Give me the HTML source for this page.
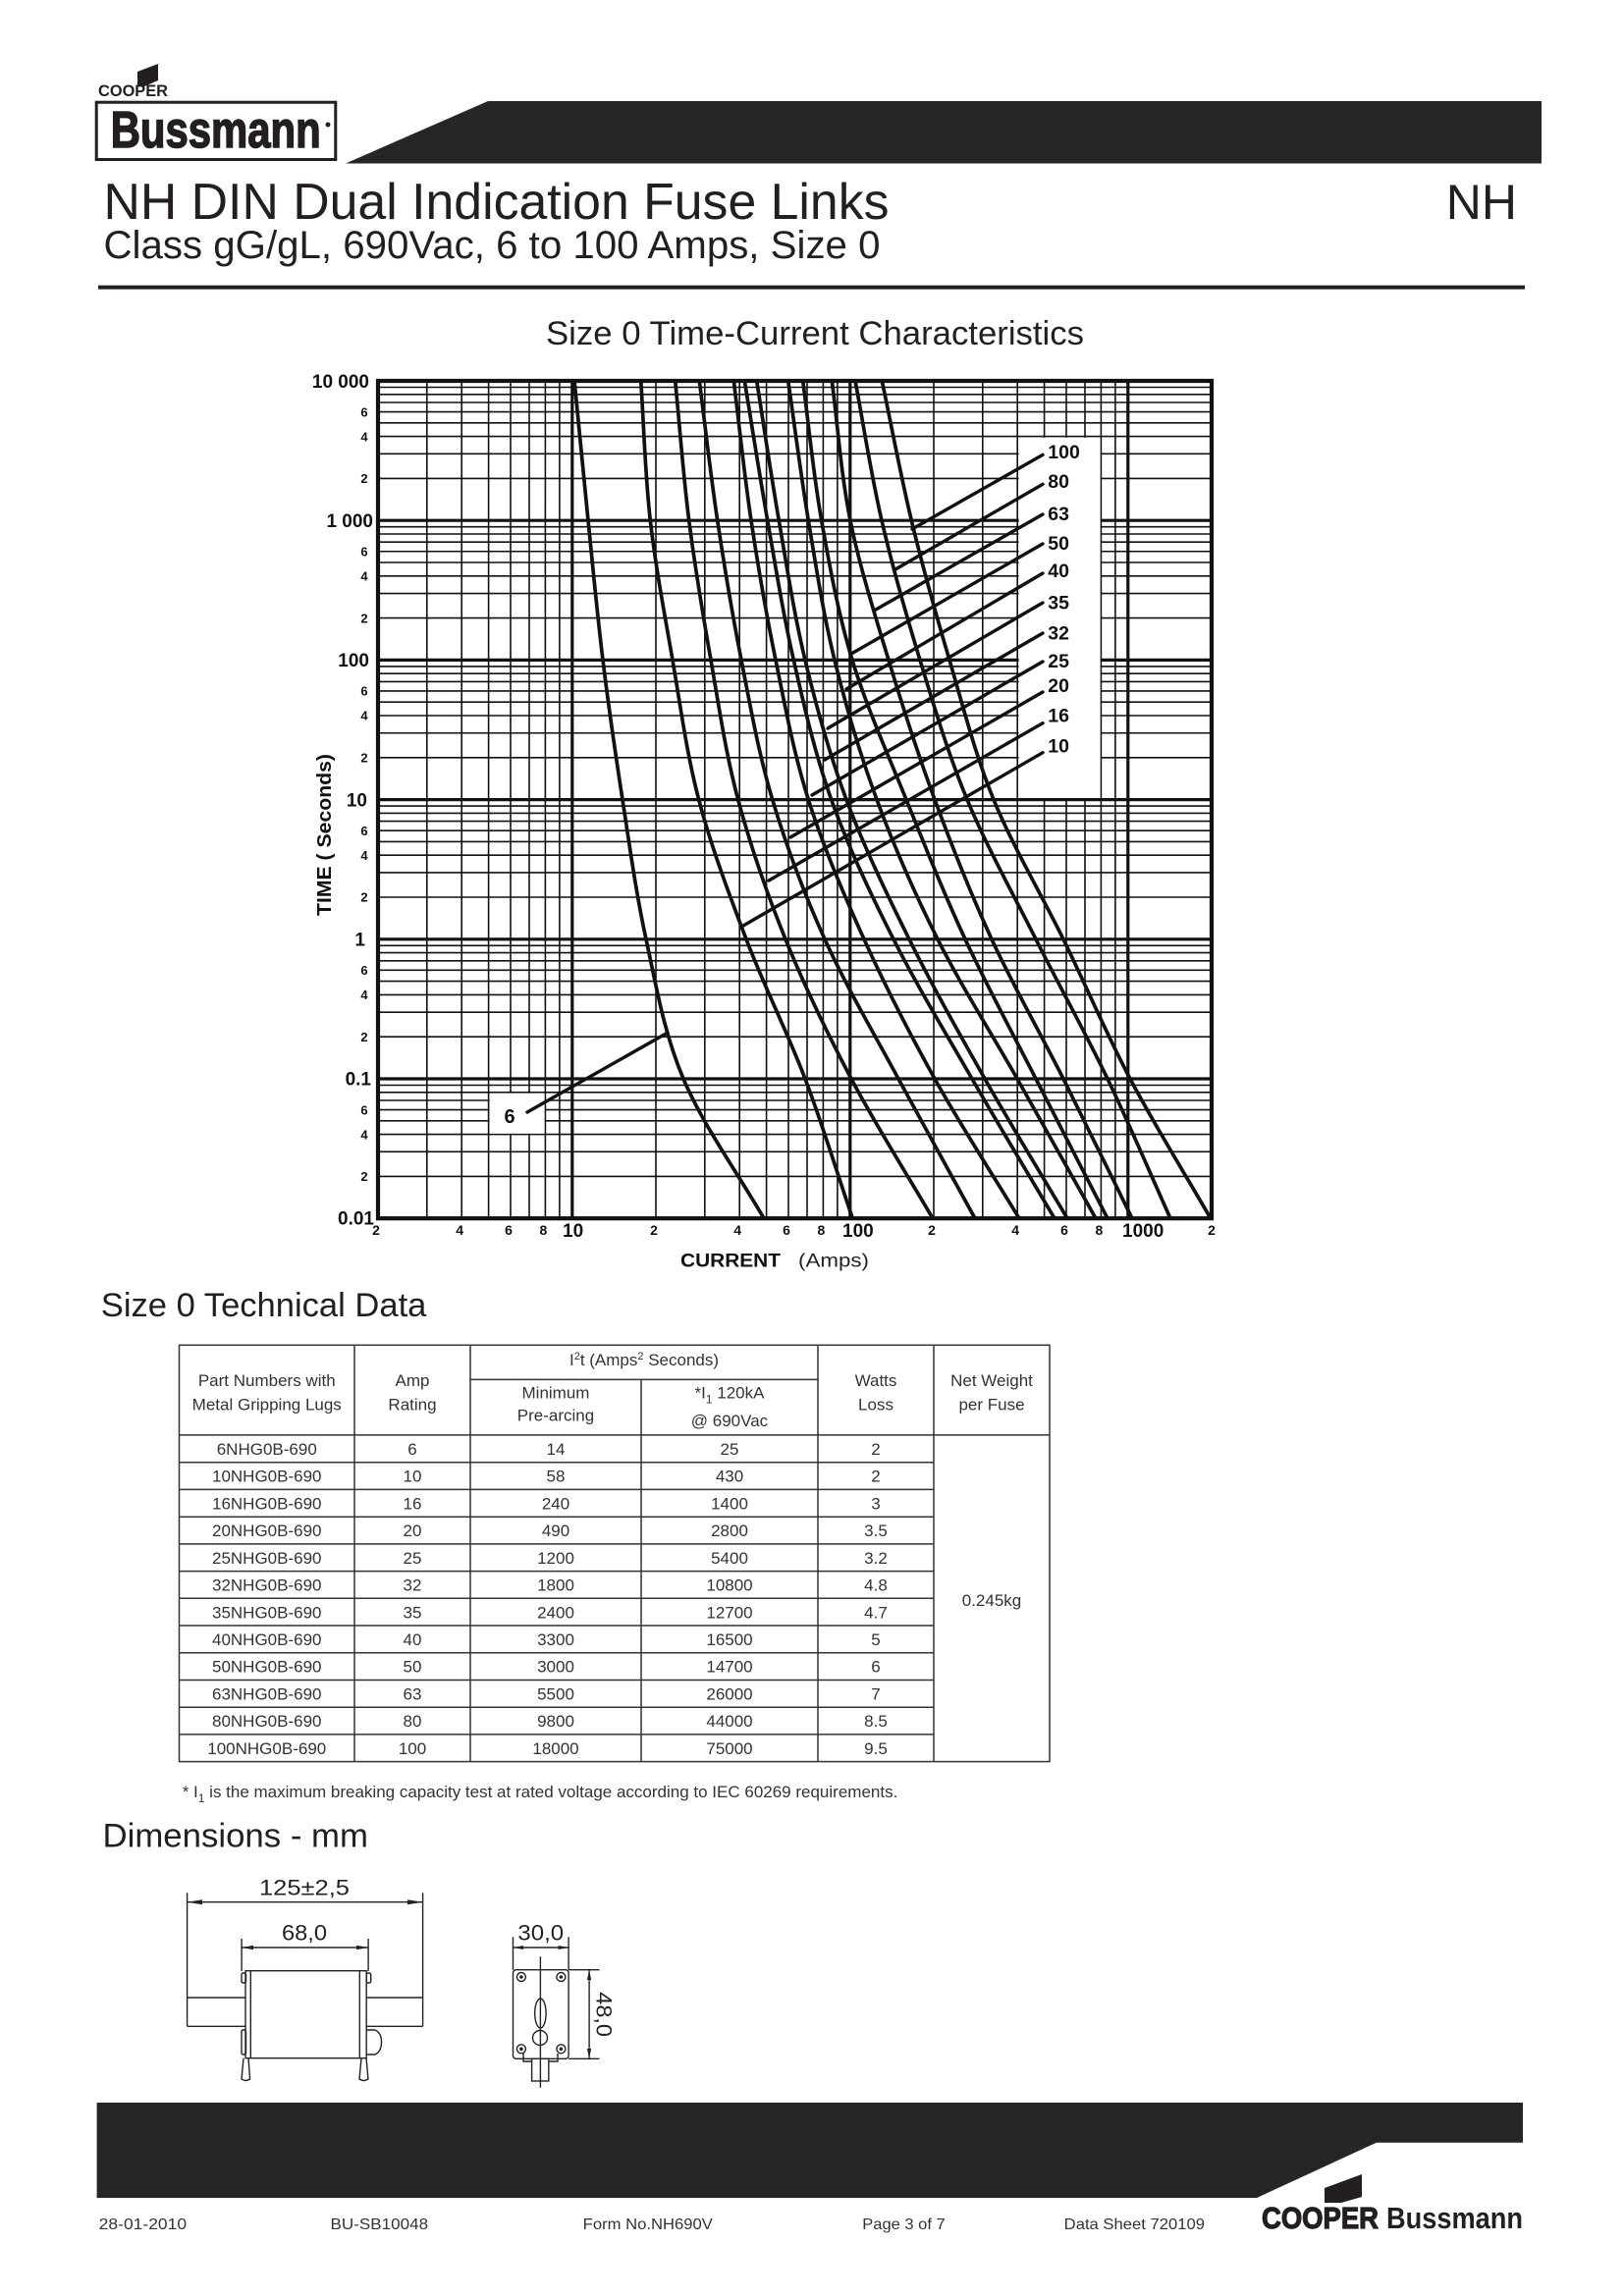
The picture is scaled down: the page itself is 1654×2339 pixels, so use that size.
<!DOCTYPE html>
<html><head><meta charset="utf-8"><title>NH DIN Dual Indication Fuse Links</title>
<style>
html,body{margin:0;padding:0;background:#fff;}
svg{display:block;}
text{font-family:"Liberation Sans",Arial,sans-serif;}
</style></head>
<body>
<svg width="1654" height="2339" viewBox="0 0 1654 2339" xmlns="http://www.w3.org/2000/svg">
<rect width="1654" height="2339" fill="#fff"/>

<!-- HEADER -->
<polygon points="140,88 140,73 161,65 161,82 147,88" fill="#231f20"/>
<text x="100" y="98" font-size="17" font-weight="bold" fill="#231f20" textLength="71" lengthAdjust="spacingAndGlyphs">COOPER</text>
<rect x="98.2" y="104.2" width="243.6" height="58.3" fill="none" stroke="#231f20" stroke-width="3"/>
<text x="112.7" y="150" font-size="52" font-weight="bold" fill="#231f20" stroke="#231f20" stroke-width="1.5" textLength="214" lengthAdjust="spacingAndGlyphs">Bussmann</text>
<circle cx="334" cy="127" r="2.5" fill="#231f20"/>
<polygon points="352,166.5 497,103 1570,103 1570,166.5" fill="#262626"/>

<text x="105.5" y="223" font-size="52" fill="#231f20" textLength="800" lengthAdjust="spacingAndGlyphs">NH DIN Dual Indication Fuse Links</text>
<text x="1545" y="223" font-size="50" fill="#231f20" text-anchor="end">NH</text>
<text x="105.5" y="263" font-size="40" fill="#231f20" textLength="791" lengthAdjust="spacingAndGlyphs">Class gG/gL, 690Vac, 6 to 100 Amps, Size 0</text>
<rect x="100" y="290.7" width="1453" height="4" fill="#231f20"/>

<text x="556" y="351" font-size="34.6" fill="#231f20" textLength="548" lengthAdjust="spacingAndGlyphs">Size 0 Time-Current Characteristics</text>

<!-- CHART -->
<defs><clipPath id="plot"><rect x="385" y="388" width="849" height="853.2"/></clipPath></defs>
<g clip-path="url(#plot)">
<path fill="none" stroke="#111" stroke-width="1.6" d="
M385 394.5H1234M385 401.8H1234M385 410H1234M385 419.55H1234M385 430.8H1234M385 444.6H1234M385 462.35H1234M385 487.4H1234
M385 536.7H1234M385 544H1234M385 552.2H1234M385 561.75H1234M385 573H1234M385 586.8H1234M385 604.55H1234M385 629.6H1234
M385 678.9H1234M385 686.2H1234M385 694.4H1234M385 703.95H1234M385 715.2H1234M385 729H1234M385 746.75H1234M385 771.8H1234
M385 821.1H1234M385 828.4H1234M385 836.6H1234M385 846.15H1234M385 857.4H1234M385 871.2H1234M385 888.95H1234M385 914H1234
M385 963.3H1234M385 970.6H1234M385 978.8H1234M385 988.35H1234M385 999.6H1234M385 1013.4H1234M385 1031.15H1234M385 1056.2H1234
M385 1105.5H1234M385 1112.8H1234M385 1121H1234M385 1130.55H1234M385 1141.8H1234M385 1155.6H1234M385 1173.35H1234M385 1198.4H1234
M434.8 388V1242M470.2 388V1242M497.6 388V1242M520 388V1242M539 388V1242M555.4 388V1242M569.9 388V1242
M668 388V1242M717.8 388V1242M753.2 388V1242M780.6 388V1242M803 388V1242M822 388V1242M838.4 388V1242M852.9 388V1242
M951 388V1242M1000.8 388V1242M1036.2 388V1242M1063.6 388V1242M1086 388V1242M1105 388V1242M1121.4 388V1242M1135.9 388V1242"/>
<path fill="none" stroke="#111" stroke-width="3.2" d="M385 530.2H1234M385 672.4H1234M385 814.6H1234M385 956.8H1234M385 1099H1234
M582.8 388V1242M865.8 388V1242M1148.8 388V1242"/>
<!-- label boxes -->
<rect x="1037.6" y="445.8" width="83" height="367.2" fill="#fff"/>
<rect x="498.6" y="1113.8" width="56" height="41" fill="#fff"/>

<!-- curves -->
<g fill="none" stroke="#111" stroke-width="3.7" stroke-linecap="round">
<path d="M585 388C589.7 435.4 594.2 482.8 599 530.2S608.2 625 614 672.4S626.7 767.2 634 814.6S647.7 909.4 658 956.8S676 1051.6 696 1099S750.7 1193.8 778 1241.2"/>
<path d="M652.7 388C655.9 435.4 656.9 482.8 662.3 530.2S676.8 625 685 672.4S699.2 767.2 711.7 814.6S742 909.4 760 956.8S802 1051.6 820 1099S852.2 1193.8 868.3 1241.2"/>
<path d="M687.7 388C692.4 435.4 695.7 482.8 701.7 530.2S715.7 625 724 672.4S739 767.2 751.7 814.6S780.8 909.4 800 956.8S842 1051.6 867 1099S922.3 1193.8 950 1241.2"/>
<path d="M712.3 388C718.4 435.4 723.6 482.8 730.7 530.2S745.7 625 755 672.4S772.5 767.2 786.7 814.6S818.6 909.4 840 956.8S889.5 1051.6 915 1099S967 1193.8 993 1241.2"/>
<path d="M747.3 388C753.2 435.4 757.9 482.8 765 530.2S780.3 625 790 672.4S808.3 767.2 823.3 814.6S858.6 909.4 880 956.8S925.7 1051.6 952 1099S1009.3 1193.8 1038 1241.2"/>
<path d="M758.3 388C766.1 435.4 773.4 482.8 781.7 530.2S797.5 625 808.3 672.4S829.8 767.2 846.7 814.6S886.1 909.4 910 956.8S962.7 1051.6 990 1099S1046 1193.8 1074 1241.2"/>
<path d="M770.7 388C778.2 435.4 785.1 482.8 793.3 530.2S808.6 625 820 672.4S844.3 767.2 862 814.6S902.5 909.4 926 956.8S976.2 1051.6 1003 1099S1059 1193.8 1087 1241.2"/>
<path d="M802.7 388C809.6 435.4 815.4 482.8 823.3 530.2S838.4 625 850 672.4S875.5 767.2 893 814.6S931.2 909.4 955 956.8S1009.2 1051.6 1036 1099S1089.3 1193.8 1116 1241.2"/>
<path d="M817.7 388C824 435.4 828.3 482.8 836.7 530.2S853.6 625 868 672.4S903.8 767.2 923 814.6S961 909.4 983 956.8S1030.8 1051.6 1055 1099S1103.7 1193.8 1128 1241.2"/>
<path d="M847.3 388C853.5 435.4 856.4 482.8 866 530.2S890.7 625 905 672.4S934.5 767.2 952 814.6S988.2 909.4 1010 956.8S1059.2 1051.6 1083 1099S1129.7 1193.8 1153 1241.2"/>
<path d="M871 388C880 435.4 887 482.8 898 530.2S922.5 625 937 672.4S965.3 767.2 985 814.6S1031.2 909.4 1055 956.8S1105.2 1051.6 1128 1099S1170.7 1193.8 1192 1241.2"/>
<path d="M898.3 388C908.3 435.4 916.9 482.8 928.3 530.2S953 625 967 672.4S992.7 767.2 1012 814.6S1059.8 909.4 1083 956.8S1126 1051.6 1151 1099S1205.7 1193.8 1233 1241.2"/>
</g>
<!-- leaders -->
<g stroke="#111" stroke-width="3.4" stroke-linecap="round">
<line x1="929" y1="539" x2="1062" y2="463.3"/>
<line x1="912" y1="580" x2="1062" y2="493.3"/>
<line x1="892" y1="621" x2="1062" y2="524"/>
<line x1="867" y1="666" x2="1062" y2="554"/>
<line x1="862" y1="702" x2="1062" y2="584"/>
<line x1="843" y1="742" x2="1062" y2="614"/>
<line x1="840" y1="774" x2="1062" y2="645"/>
<line x1="827" y1="810" x2="1062" y2="674"/>
<line x1="805" y1="853" x2="1062" y2="705"/>
<line x1="783" y1="897" x2="1062" y2="736.7"/>
<line x1="757" y1="943" x2="1062" y2="766.7"/>
<line x1="537" y1="1133" x2="680" y2="1052"/>
</g>
</g>
<rect x="385" y="388" width="849" height="853.2" fill="none" stroke="#111" stroke-width="4.2"/>

<!-- curve labels -->
<g font-size="19.5" font-weight="bold" fill="#111">
<text x="1067.3" y="467">100</text>
<text x="1067.3" y="497">80</text>
<text x="1067.3" y="530">63</text>
<text x="1067.3" y="560">50</text>
<text x="1067.3" y="588">40</text>
<text x="1067.3" y="620.5">35</text>
<text x="1067.3" y="651.5">32</text>
<text x="1067.3" y="680">25</text>
<text x="1067.3" y="705">20</text>
<text x="1067.3" y="735.5">16</text>
<text x="1067.3" y="766.5">10</text>
<text x="519" y="1144" text-anchor="middle" font-size="20">6</text>
</g>

<!-- y axis labels -->
<g font-size="19" font-weight="bold" fill="#111" text-anchor="end">
<text x="376" y="395">10 000</text>
<text x="380" y="537">1 000</text>
<text x="376" y="679">100</text>
<text x="374" y="821.5">10</text>
<text x="372" y="963.5">1</text>
<text x="378" y="1105.5">0.1</text>
<text x="381" y="1247.5">0.01</text>
</g>
<g font-size="13" font-weight="bold" fill="#111" text-anchor="middle">
<text x="371" y="424.3">6</text><text x="371" y="449.3">4</text><text x="371" y="492.1">2</text>
<text x="371" y="566.5">6</text><text x="371" y="591.5">4</text><text x="371" y="634.3">2</text>
<text x="371" y="708.7">6</text><text x="371" y="733.7">4</text><text x="371" y="776.5">2</text>
<text x="371" y="850.9">6</text><text x="371" y="875.9">4</text><text x="371" y="918.7">2</text>
<text x="371" y="993.1">6</text><text x="371" y="1018.1">4</text><text x="371" y="1060.9">2</text>
<text x="371" y="1135.3">6</text><text x="371" y="1160.3">4</text><text x="371" y="1203.1">2</text>
</g>
<text transform="translate(337,850.5) rotate(-90)" text-anchor="middle" font-size="20" font-weight="bold" fill="#111" textLength="165" lengthAdjust="spacingAndGlyphs">TIME  ( Seconds)</text>

<!-- x axis labels -->
<g font-size="14" font-weight="bold" fill="#111" text-anchor="middle">
<text x="383" y="1258">2</text><text x="468.2" y="1258">4</text><text x="518" y="1258">6</text><text x="553.4" y="1258">8</text>
<text x="666" y="1258">2</text><text x="751.2" y="1258">4</text><text x="801" y="1258">6</text><text x="836.4" y="1258">8</text>
<text x="949" y="1258">2</text><text x="1034.2" y="1258">4</text><text x="1084" y="1258">6</text><text x="1119.4" y="1258">8</text>
<text x="1234" y="1258">2</text>
</g>
<g font-size="19" font-weight="bold" fill="#111">
<text x="573" y="1260">10</text>
<text x="858" y="1260">100</text>
<text x="1143" y="1260">1000</text>
</g>
<text x="693" y="1290.5" font-size="19.5" font-weight="bold" fill="#111" textLength="102" lengthAdjust="spacingAndGlyphs">CURRENT</text>
<text x="813" y="1290.5" font-size="19.5" fill="#222" textLength="72" lengthAdjust="spacingAndGlyphs">(Amps)</text>

<!-- TECHNICAL DATA -->
<text x="102.8" y="1341" font-size="34" fill="#231f20" textLength="331.6" lengthAdjust="spacingAndGlyphs">Size 0 Technical Data</text>

<g stroke="#333" stroke-width="1.5" fill="none">
<rect x="182.5" y="1370.3" width="886.5" height="424.3"/>
<path d="M361 1370.3V1794.6M479 1370.3V1794.6M833 1370.3V1794.6M951 1370.3V1794.6M653 1405.4V1794.6M479 1405.4H833M182.5 1461.9H1069
M182.5 1489.7H951M182.5 1517.4H951M182.5 1545.2H951M182.5 1572.9H951M182.5 1600.6H951M182.5 1628.3H951M182.5 1656H951M182.5 1683.8H951M182.5 1711.5H951M182.5 1739.2H951M182.5 1766.9H951"/>
</g>
<g font-size="17" fill="#333" text-anchor="middle">
<text x="271.75" y="1412">Part Numbers with</text>
<text x="271.75" y="1436.5">Metal Gripping Lugs</text>
<text x="420" y="1412">Amp</text>
<text x="420" y="1436.5">Rating</text>
<text x="656" y="1391">I<tspan font-size="11" dy="-6">2</tspan><tspan dy="6">t (Amps</tspan><tspan font-size="11" dy="-6">2</tspan><tspan dy="6"> Seconds)</tspan></text>
<text x="566" y="1424.5">Minimum</text>
<text x="566" y="1447.5">Pre-arcing</text>
<text x="743" y="1424.5">*I<tspan font-size="12" dy="5">1</tspan><tspan dy="-5"> 120kA</tspan></text>
<text x="743" y="1453">@ 690Vac</text>
<text x="892" y="1412">Watts</text>
<text x="892" y="1436.5">Loss</text>
<text x="1010" y="1412">Net Weight</text>
<text x="1010" y="1436.5">per Fuse</text>

<text x="271.75" y="1482">6NHG0B-690</text><text x="420" y="1482">6</text><text x="566" y="1482">14</text><text x="743" y="1482">25</text><text x="892" y="1482">2</text>
<text x="271.75" y="1509.7">10NHG0B-690</text><text x="420" y="1509.7">10</text><text x="566" y="1509.7">58</text><text x="743" y="1509.7">430</text><text x="892" y="1509.7">2</text>
<text x="271.75" y="1537.4">16NHG0B-690</text><text x="420" y="1537.4">16</text><text x="566" y="1537.4">240</text><text x="743" y="1537.4">1400</text><text x="892" y="1537.4">3</text>
<text x="271.75" y="1565.1">20NHG0B-690</text><text x="420" y="1565.1">20</text><text x="566" y="1565.1">490</text><text x="743" y="1565.1">2800</text><text x="892" y="1565.1">3.5</text>
<text x="271.75" y="1592.8">25NHG0B-690</text><text x="420" y="1592.8">25</text><text x="566" y="1592.8">1200</text><text x="743" y="1592.8">5400</text><text x="892" y="1592.8">3.2</text>
<text x="271.75" y="1620.6">32NHG0B-690</text><text x="420" y="1620.6">32</text><text x="566" y="1620.6">1800</text><text x="743" y="1620.6">10800</text><text x="892" y="1620.6">4.8</text>
<text x="271.75" y="1648.3">35NHG0B-690</text><text x="420" y="1648.3">35</text><text x="566" y="1648.3">2400</text><text x="743" y="1648.3">12700</text><text x="892" y="1648.3">4.7</text>
<text x="271.75" y="1676">40NHG0B-690</text><text x="420" y="1676">40</text><text x="566" y="1676">3300</text><text x="743" y="1676">16500</text><text x="892" y="1676">5</text>
<text x="271.75" y="1703.7">50NHG0B-690</text><text x="420" y="1703.7">50</text><text x="566" y="1703.7">3000</text><text x="743" y="1703.7">14700</text><text x="892" y="1703.7">6</text>
<text x="271.75" y="1731.4">63NHG0B-690</text><text x="420" y="1731.4">63</text><text x="566" y="1731.4">5500</text><text x="743" y="1731.4">26000</text><text x="892" y="1731.4">7</text>
<text x="271.75" y="1759.2">80NHG0B-690</text><text x="420" y="1759.2">80</text><text x="566" y="1759.2">9800</text><text x="743" y="1759.2">44000</text><text x="892" y="1759.2">8.5</text>
<text x="271.75" y="1786.9">100NHG0B-690</text><text x="420" y="1786.9">100</text><text x="566" y="1786.9">18000</text><text x="743" y="1786.9">75000</text><text x="892" y="1786.9">9.5</text>
<text x="1010" y="1636">0.245kg</text>
</g>
<text x="185.7" y="1831" font-size="17" fill="#333">* I<tspan font-size="12" dy="5">1</tspan><tspan dy="-5"> is the maximum breaking capacity test at rated voltage according to IEC 60269 requirements.</tspan></text>

<!-- DIMENSIONS -->
<text x="104.5" y="1881.7" font-size="34" fill="#231f20" textLength="270.5" lengthAdjust="spacingAndGlyphs">Dimensions - mm</text>

<g fill="#222" font-size="22">
<text x="264" y="1930.5" textLength="92" lengthAdjust="spacingAndGlyphs">125±2,5</text>
<text x="287" y="1976.5" textLength="46" lengthAdjust="spacingAndGlyphs">68,0</text>
<text x="527.4" y="1976.5" textLength="46.7" lengthAdjust="spacingAndGlyphs">30,0</text>
<text transform="translate(607.5,2029.3) rotate(90)" textLength="45.7" lengthAdjust="spacingAndGlyphs">48,0</text>
</g>
<g fill="none" stroke="#222" stroke-width="1.4">
<!-- drawing 1 -->
<path d="M190.6 1928.3V2064.3M430.6 1928.3V2064.3M190.6 1937.7H430.6"/>
<path d="M246.1 1975V2008M375.1 1975V2008M246.1 1984H375.1"/>
<path d="M190.6 2035H250M373.2 2035H430.6M190.6 2064.3H250M373.2 2064.3H430.6"/>
<rect x="250" y="2007.7" width="123.2" height="89"/>
<path d="M255.3 2007.7V2096.7M366.3 2007.7V2096.7"/>
<rect x="246" y="2010" width="4.5" height="10" rx="1.5"/>
<rect x="373.2" y="2010" width="4.5" height="10" rx="1.5"/>
<rect x="246" y="2068" width="4.5" height="25" rx="1.5"/>
<path d="M373.2 2068H382Q388.5 2071 388.5 2080Q388.5 2090 382 2093H373.2"/>
<path d="M248 2096.7L246 2118Q250 2121 254.6 2118L253 2096.7"/>
<path d="M368 2096.7L366 2118Q370.5 2121 375 2118L373 2096.7"/>
<!-- drawing 2 -->
<path d="M522.5 1973.3V2006.7M579.1 1973.3V2006.7M522.5 1984H579.1"/>
<rect x="522.5" y="2006.7" width="56.6" height="90.6" rx="3"/>
<circle cx="530.9" cy="2014" r="4.5"/><circle cx="571.4" cy="2014" r="4.5"/>
<circle cx="530.9" cy="2087.3" r="4.5"/><circle cx="571.4" cy="2087.3" r="4.5"/>
<path d="M550.4 1993.3V2126.7"/>
<ellipse cx="550.4" cy="2051" rx="5.7" ry="15"/>
<circle cx="550" cy="2076" r="7.5"/>
<rect x="541.6" y="2097.3" width="17.2" height="22.7"/>
<path d="M533 2092V2100H541.6M568 2092V2100H558.8"/>
<path d="M579.1 2006.7H610.5M579.1 2097.3H610.5M600.1 2006.7V2097.3"/>
</g>
<g fill="#222">
<circle cx="530.9" cy="2014" r="1.8"/><circle cx="571.4" cy="2014" r="1.8"/>
<circle cx="530.9" cy="2087.3" r="1.8"/><circle cx="571.4" cy="2087.3" r="1.8"/>
<polygon points="190.6,1937.7 206,1935.2 206,1940.2"/>
<polygon points="430.6,1937.7 415,1935.2 415,1940.2"/>
<polygon points="246.1,1984 258,1981.8 258,1986.2"/>
<polygon points="375.1,1984 363,1981.8 363,1986.2"/>
<polygon points="522.5,1984 533,1982 533,1986"/>
<polygon points="579.1,1984 568.6,1982 568.6,1986"/>
<polygon points="600.1,2006.7 598,2017 602.2,2017"/>
<polygon points="600.1,2097.3 598,2087 602.2,2087"/>
</g>

<!-- FOOTER -->
<polygon points="98.6,2142 1551,2142 1551,2182.7 1402,2182.7 1280,2239 98.6,2239" fill="#262626"/>
<g font-size="16" fill="#333">
<text x="100.7" y="2271" textLength="89.4" lengthAdjust="spacingAndGlyphs">28-01-2010</text>
<text x="336.5" y="2271" textLength="99.6" lengthAdjust="spacingAndGlyphs">BU-SB10048</text>
<text x="593.7" y="2271" textLength="132.2" lengthAdjust="spacingAndGlyphs">Form No.NH690V</text>
<text x="878.3" y="2271" textLength="84.4" lengthAdjust="spacingAndGlyphs">Page 3 of 7</text>
<text x="1083.7" y="2271" textLength="143.3" lengthAdjust="spacingAndGlyphs">Data Sheet 720109</text>
</g>
<polygon points="1349,2244 1349,2229 1387,2215 1387,2238 1366,2244" fill="#231f20"/>
<text x="1285" y="2270" font-size="31" font-weight="bold" fill="#231f20" stroke="#231f20" stroke-width="1.2" textLength="119" lengthAdjust="spacingAndGlyphs">COOPER</text>
<text x="1412" y="2270" font-size="31" font-weight="bold" fill="#231f20" textLength="139" lengthAdjust="spacingAndGlyphs">Bussmann</text>
</svg>
</body></html>
